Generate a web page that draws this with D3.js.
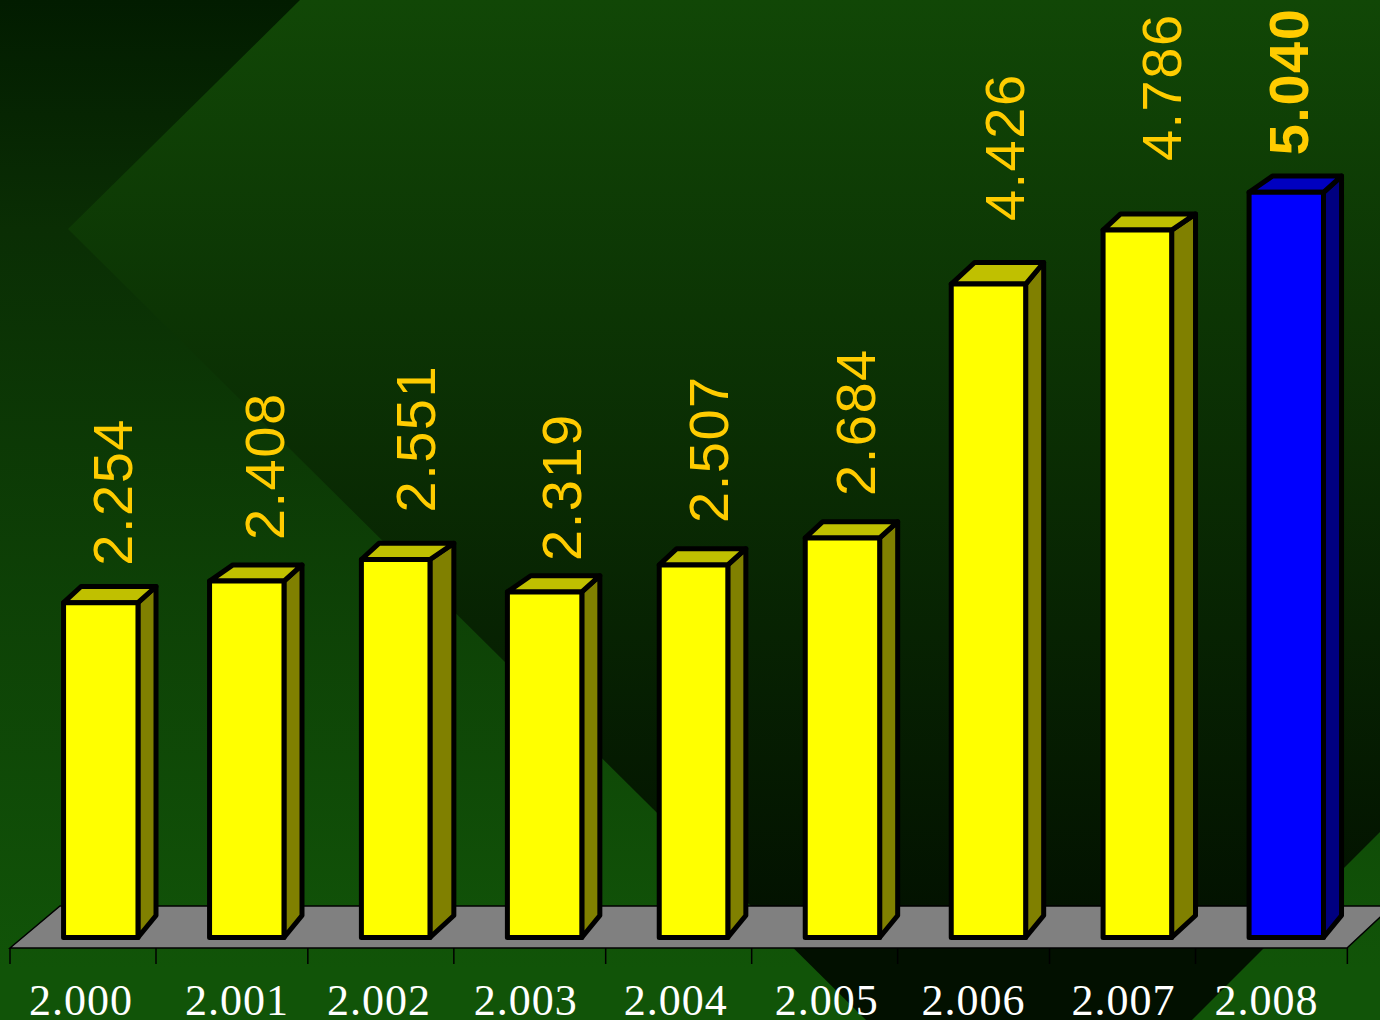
<!DOCTYPE html>
<html><head><meta charset="utf-8">
<script src="https://cdn.jsdelivr.net/npm/d3@7"></script>
<style>html,body{margin:0;padding:0;background:#0a3004;overflow:hidden}svg{display:block}</style>
</head><body><svg id="c" width="1380" height="1020"></svg>
<script>
const categories = ["2.000","2.001","2.002","2.003","2.004","2.005","2.006","2.007","2.008"];
const values = [2254,2408,2551,2319,2507,2684,4426,4786,5040];
const valueLabels = ["2.254","2.408","2.551","2.319","2.507","2.684","4.426","4.786","5.040"];
const highlightCategory = "2.008";
// hand placement of the labels relative to their bars, as in the source slide
const labelShiftX = [68,74,74,74,69,70,73,78,59];
const labelRaise = [37,41,47,31,42,42,63,69,37];
const categoryNudge = [1,5,1,-4,0,5,0,4,-5];

const W = 1380, H = 1020;
const svg = d3.select("#c");
const defs = svg.append("defs");
function grad(id, stops){
  const g = defs.append("linearGradient").attr("id",id).attr("gradientUnits","userSpaceOnUse")
    .attr("x1",0).attr("y1",0).attr("x2",0).attr("y2",H);
  stops.forEach(s=>g.append("stop").attr("offset",s[0]).attr("stop-color",s[1]));
}
grad("gOuter",[[0,"#021c00"],[0.225,"#0a2e04"],[0.95,"#115408"],[1,"#115408"]]);
grad("gInner",[[0,"#114706"],[0.93,"#021000"],[1,"#021000"]]);
const line = d3.line();
svg.append("rect").attr("width",W).attr("height",H).attr("fill","url(#gOuter)");
svg.append("path").attr("fill","url(#gInner)")
  .attr("d",line([[300,0],[W,0],[W,832],[1192,1020],[866,1020],[68,229]])+"Z");

// Chart geometry: the source metafile snaps everything to a coarse device grid
const qx = 5.84, qy = 5.4, x0 = 10, x1 = 1347;
const baseY = 937.5, floorBack = 906, floorFront = 948;
const xBand = d3.scaleBand().domain(categories).range([x0,1345.1]);
const snapX = v => x0 + Math.round((v-x0)/qx)*qx;
const yUnits = d3.scaleLinear().domain([0,5040]).range([0,138]);
const topY = v => baseY - Math.round(yUnits(v)+0.3)*qy;
const backY = v => baseY - Math.round(yUnits(v)+3.4)*qy;
const st = xBand.step();

// floor
svg.append("path").attr("fill","#808080").attr("stroke","#000").attr("stroke-width",1.5)
  .attr("d",line([[x0,floorFront],[x0+50,floorBack],[x1+45,floorBack],[x1,floorFront]])+"Z");

// axis ticks
const tickVals = d3.range(categories.length+1).map(i=>snapX(x0+i*st));
svg.append("g").selectAll("line").data(tickVals).join("line")
  .attr("x1",d=>d).attr("x2",d=>d).attr("y1",floorFront).attr("y2",964)
  .attr("stroke","#000").attr("stroke-width",1.5);

// bars
const data = categories.map((c,i)=>({c,v:values[i],t:valueLabels[i],i}));
const G = svg.append("g").selectAll("g").data(data).join("g");
const geom = d=>{
  const b = xBand(d.c);
  return {l:snapX(b+st*0.354)+1, r:snapX(b+st*0.85)-0.5, br:snapX(b+st*0.976), bl:snapX(b+st*0.488)+1, t:topY(d.v), tb:backY(d.v), b:baseY};
};
const sw = 5;
G.append("path").attr("fill",d=>d.c===highlightCategory?"#000080":"#808000")
  .attr("stroke","#000").attr("stroke-width",sw).attr("stroke-linejoin","round")
  .attr("d",d=>{const g=geom(d);return line([[g.r,g.b],[g.br,g.b-22],[g.br,g.tb],[g.r,g.t]])+"Z";});
G.append("path").attr("fill",d=>d.c===highlightCategory?"#0000c0":"#c0c000")
  .attr("stroke","#000").attr("stroke-width",sw).attr("stroke-linejoin","round")
  .attr("d",d=>{const g=geom(d);return line([[g.l,g.t],[g.bl,g.tb],[g.br,g.tb],[g.r,g.t]])+"Z";});
G.append("path").attr("fill",d=>d.c===highlightCategory?"#0000ff":"#ffff00")
  .attr("stroke","#000").attr("stroke-width",sw).attr("stroke-linejoin","round")
  .attr("d",d=>{const g=geom(d);return line([[g.l,g.t],[g.r,g.t],[g.r,g.b],[g.l,g.b]])+"Z";});

// value labels
G.append("text")
  .attr("transform",d=>{const g=geom(d);return `translate(${g.l+labelShiftX[d.i]},${g.t-labelRaise[d.i]}) rotate(-90)`;})
  .attr("font-family","'Liberation Sans',Arial,sans-serif").attr("font-size",56)
  .attr("letter-spacing",d=>d.c==="2.551"?0.3:1.5)
  .attr("font-weight",d=>d.c===highlightCategory?"bold":"normal")
  .attr("fill","#ffcc00").text(d=>d.t);

// category labels
svg.append("g").selectAll("text").data(categories).join("text")
  .attr("x",(d,i)=>snapX(xBand(d)+st*0.488)+categoryNudge[i])
  .attr("y",1014.5)
  .attr("text-anchor","middle")
  .attr("font-family","'Liberation Serif','Times New Roman',serif").attr("font-size",44)
  .attr("letter-spacing",1).attr("fill","#fff").text(d=>d);
</script></body></html>
